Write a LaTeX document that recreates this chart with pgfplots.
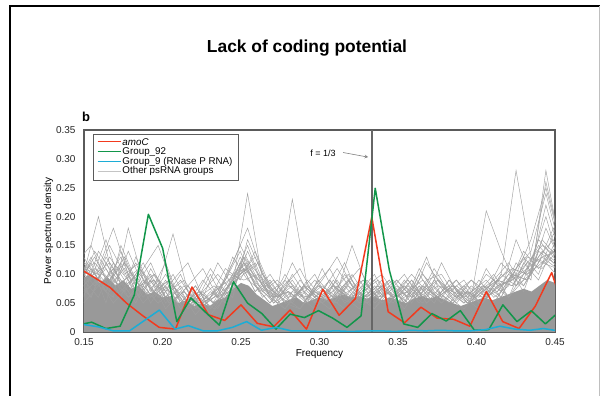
\documentclass[border=0pt]{standalone}
\usepackage{pgfplots}
\pgfplotsset{compat=1.18}
\usepackage{pgfplotstable}
\usepackage{fontspec}
\setmainfont{Liberation Sans}
\definecolor{cred}{HTML}{F23A1E}
\definecolor{cgreen}{HTML}{12964A}
\definecolor{ccyan}{HTML}{1CADD6}
\definecolor{cgray}{HTML}{A0A0A0}
\definecolor{lgray}{HTML}{C4C4C4}
\definecolor{coregray}{HTML}{999999}
\definecolor{axgray}{HTML}{5A5A5A}

\pgfplotstableread{
f a1 a2 a3 a4 a5 a6 a7 a8
0.1450 0.12 0.09 0.06 0.14 0.08 0.05 0.10 0.07
0.1545 0.15 0.06 0.11 0.09 0.13 0.08 0.06 0.12
0.1640 0.09 0.12 0.07 0.16 0.07 0.11 0.13 0.05
0.1735 0.13 0.07 0.14 0.08 0.12 0.06 0.09 0.15
0.1830 0.07 0.10 0.08 0.12 0.06 0.13 0.05 0.09
0.1925 0.10 0.05 0.12 0.06 0.09 0.07 0.11 0.06
0.2020 0.05 0.09 0.06 0.10 0.04 0.12 0.06 0.08
0.2115 0.08 0.04 0.09 0.05 0.07 0.05 0.10 0.04
0.2210 0.04 0.07 0.05 0.08 0.03 0.08 0.04 0.06
0.2305 0.06 0.03 0.10 0.04 0.06 0.04 0.07 0.11
0.2400 0.09 0.06 0.05 0.09 0.11 0.07 0.05 0.07
0.2495 0.14 0.10 0.12 0.15 0.09 0.13 0.10 0.12
0.2590 0.08 0.13 0.07 0.10 0.14 0.08 0.12 0.07
0.2685 0.05 0.07 0.10 0.06 0.08 0.05 0.06 0.09
0.2780 0.08 0.04 0.06 0.09 0.05 0.10 0.04 0.05
0.2875 0.11 0.07 0.04 0.06 0.09 0.06 0.08 0.04
0.2970 0.06 0.10 0.08 0.04 0.06 0.09 0.05 0.07
0.3065 0.09 0.05 0.11 0.07 0.04 0.06 0.09 0.05
0.3160 0.05 0.08 0.06 0.12 0.08 0.04 0.06 0.10
0.3255 0.07 0.05 0.09 0.06 0.11 0.07 0.04 0.06
0.3350 0.04 0.08 0.05 0.09 0.06 0.10 0.07 0.04
0.3445 0.08 0.05 0.07 0.05 0.09 0.05 0.09 0.07
0.3540 0.05 0.09 0.04 0.08 0.05 0.08 0.05 0.10
0.3635 0.10 0.06 0.08 0.05 0.11 0.06 0.08 0.06
0.3730 0.06 0.11 0.05 0.09 0.07 0.10 0.05 0.08
0.3825 0.08 0.07 0.09 0.06 0.05 0.07 0.09 0.05
0.3920 0.05 0.09 0.06 0.04 0.08 0.05 0.06 0.07
0.4015 0.07 0.05 0.08 0.07 0.05 0.09 0.04 0.06
0.4110 0.09 0.08 0.05 0.10 0.07 0.06 0.08 0.09
0.4205 0.06 0.11 0.09 0.06 0.10 0.08 0.06 0.12
0.4300 0.12 0.07 0.13 0.09 0.08 0.14 0.10 0.08
0.4395 0.09 0.14 0.10 0.16 0.12 0.11 0.15 0.13
0.4490 0.15 0.12 0.17 0.13 0.18 0.14 0.12 0.16
0.4585 0.10 0.09 0.12 0.10 0.11 0.10 0.09 0.11
}\tabA

\pgfplotstableread{
f b1 b2 b3 b4 b5 b6 b7 b8
0.1497 0.10 0.08 0.12 0.06 0.09 0.11 0.07 0.05
0.1592 0.20 0.11 0.08 0.14 0.06 0.10 0.09 0.08
0.1687 0.09 0.18 0.06 0.10 0.12 0.07 0.05 0.11
0.1782 0.06 0.10 0.18 0.07 0.09 0.14 0.08 0.06
0.1877 0.08 0.06 0.09 0.11 0.05 0.08 0.12 0.09
0.1972 0.05 0.09 0.06 0.15 0.08 0.05 0.07 0.06
0.2067 0.07 0.05 0.10 0.08 0.17 0.09 0.05 0.08
0.2162 0.04 0.08 0.05 0.05 0.07 0.12 0.08 0.05
0.2257 0.06 0.05 0.07 0.09 0.04 0.06 0.11 0.07
0.2352 0.12 0.07 0.04 0.06 0.08 0.05 0.06 0.10
0.2447 0.08 0.12 0.09 0.10 0.06 0.09 0.13 0.07
0.2542 0.24 0.18 0.15 0.12 0.16 0.11 0.09 0.14
0.2637 0.09 0.10 0.08 0.07 0.10 0.06 0.07 0.08
0.2732 0.06 0.07 0.05 0.09 0.06 0.08 0.05 0.06
0.2827 0.08 0.23 0.07 0.06 0.12 0.05 0.10 0.09
0.2922 0.05 0.08 0.06 0.08 0.07 0.09 0.06 0.05
0.3017 0.11 0.06 0.09 0.05 0.05 0.06 0.08 0.07
0.3112 0.06 0.09 0.13 0.07 0.08 0.05 0.06 0.11
0.3207 0.09 0.05 0.08 0.15 0.06 0.10 0.05 0.07
0.3302 0.05 0.07 0.06 0.08 0.09 0.06 0.08 0.05
0.3397 0.08 0.06 0.09 0.05 0.06 0.08 0.10 0.07
0.3492 0.06 0.09 0.05 0.07 0.08 0.05 0.06 0.09
0.3587 0.09 0.06 0.08 0.10 0.05 0.07 0.09 0.06
0.3682 0.05 0.12 0.06 0.07 0.09 0.13 0.05 0.08
0.3777 0.07 0.08 0.12 0.05 0.10 0.06 0.08 0.05
0.3872 0.09 0.05 0.07 0.08 0.06 0.09 0.06 0.07
0.3967 0.06 0.08 0.05 0.06 0.09 0.05 0.07 0.09
0.4062 0.21 0.06 0.08 0.10 0.07 0.11 0.09 0.06
0.4157 0.14 0.10 0.06 0.08 0.12 0.07 0.06 0.10
0.4252 0.08 0.28 0.12 0.10 0.09 0.16 0.11 0.08
0.4347 0.10 0.13 0.09 0.16 0.11 0.10 0.14 0.12
0.4442 0.18 0.12 0.28 0.25 0.22 0.26 0.24 0.20
0.4537 0.12 0.09 0.14 0.15 0.13 0.15 0.14 0.11
}\tabB

\pgfplotstableread{
f c1 c2 c3 c4 c5 c6 c7 c8
0.1473 0.11 0.13 0.08 0.10 0.12 0.09 0.14 0.07
0.1568 0.08 0.10 0.14 0.12 0.09 0.13 0.10 0.11
0.1663 0.13 0.07 0.10 0.09 0.15 0.08 0.12 0.09
0.1758 0.09 0.12 0.07 0.13 0.10 0.11 0.08 0.12
0.1853 0.11 0.08 0.11 0.07 0.12 0.06 0.10 0.08
0.1948 0.07 0.10 0.08 0.09 0.06 0.10 0.07 0.09
0.2043 0.09 0.06 0.07 0.05 0.08 0.07 0.09 0.05
0.2138 0.05 0.08 0.04 0.07 0.05 0.09 0.05 0.07
0.2233 0.07 0.05 0.06 0.04 0.07 0.05 0.06 0.04
0.2328 0.05 0.07 0.08 0.06 0.05 0.06 0.04 0.06
0.2423 0.08 0.09 0.06 0.08 0.07 0.10 0.08 0.07
0.2518 0.12 0.11 0.13 0.10 0.12 0.09 0.13 0.11
0.2613 0.09 0.08 0.10 0.12 0.07 0.10 0.08 0.09
0.2708 0.06 0.05 0.07 0.06 0.09 0.05 0.06 0.07
0.2803 0.07 0.08 0.05 0.07 0.06 0.07 0.09 0.05
0.2898 0.05 0.06 0.08 0.05 0.07 0.05 0.06 0.08
0.2993 0.08 0.05 0.06 0.09 0.05 0.08 0.07 0.06
0.3088 0.06 0.09 0.07 0.06 0.08 0.06 0.05 0.08
0.3183 0.09 0.06 0.10 0.07 0.06 0.09 0.08 0.06
0.3278 0.06 0.08 0.06 0.09 0.07 0.05 0.06 0.09
0.3373 0.08 0.06 0.07 0.06 0.09 0.07 0.08 0.06
0.3468 0.06 0.08 0.05 0.08 0.06 0.09 0.06 0.07
0.3563 0.07 0.05 0.08 0.06 0.07 0.06 0.09 0.05
0.3658 0.09 0.07 0.06 0.10 0.05 0.08 0.06 0.08
0.3753 0.06 0.09 0.08 0.07 0.09 0.06 0.07 0.06
0.3848 0.08 0.06 0.07 0.05 0.07 0.08 0.05 0.08
0.3943 0.05 0.07 0.05 0.07 0.06 0.05 0.08 0.06
0.4038 0.07 0.05 0.08 0.06 0.08 0.07 0.06 0.05
0.4133 0.09 0.08 0.06 0.09 0.07 0.09 0.07 0.08
0.4228 0.11 0.09 0.10 0.08 0.11 0.08 0.10 0.09
0.4323 0.10 0.12 0.09 0.12 0.10 0.13 0.09 0.11
0.4418 0.14 0.11 0.13 0.15 0.12 0.12 0.16 0.13
0.4513 0.12 0.14 0.11 0.13 0.15 0.11 0.13 0.14
}\tabC

\begin{document}
\begin{tikzpicture}[x=1pt,y=1pt]
\begin{axis}[
  name=ax, scale only axis,
  width=471pt, height=202pt,
  xmin=0.15, xmax=0.45, ymin=0, ymax=0.35,
  xtick={0.15,0.20,0.25,0.30,0.35,0.40,0.45},
  xticklabels={0.15,0.20,0.25,0.30,0.35,0.40,0.45},
  ytick={0,0.05,0.10,0.15,0.20,0.25,0.30,0.35},
  yticklabels={0,0.05,0.10,0.15,0.20,0.25,0.30,0.35},
  /pgf/number format/assume math mode=true,
  major tick length=0pt,
  tick label style={font=\fontsize{10}{12}\selectfont, text=black!85},
  xticklabel style={yshift=-3pt},
  yticklabel style={xshift=-5pt},
  axis line style={draw=axgray, line width=1.2pt},
  xlabel={Frequency},
  ylabel={Power spectrum density},
  label style={font=\fontsize{10}{12}\selectfont},
  xlabel style={yshift=3pt},
  ylabel style={yshift=-4pt},
  clip=true,
]
% dense core of other groups
\addplot[fill=coregray, draw=none, forget plot] coordinates {
(0.15,0.095) (0.155,0.10) (0.16,0.085) (0.165,0.095) (0.17,0.08) (0.175,0.09)
(0.18,0.075) (0.185,0.08) (0.19,0.065) (0.195,0.07) (0.2,0.06) (0.205,0.062)
(0.21,0.05) (0.215,0.055) (0.22,0.045) (0.225,0.05) (0.23,0.045) (0.235,0.055)
(0.24,0.06) (0.245,0.075) (0.25,0.085) (0.255,0.08) (0.26,0.065) (0.265,0.055)
(0.27,0.045) (0.275,0.05) (0.28,0.055) (0.285,0.06) (0.29,0.05) (0.295,0.055)
(0.3,0.06) (0.305,0.055) (0.31,0.06) (0.315,0.065) (0.32,0.06) (0.325,0.062)
(0.33,0.058) (0.335,0.062) (0.34,0.055) (0.345,0.06) (0.35,0.055) (0.355,0.05)
(0.36,0.058) (0.365,0.062) (0.37,0.058) (0.375,0.062) (0.38,0.055) (0.385,0.05)
(0.39,0.045) (0.395,0.05) (0.4,0.055) (0.405,0.06) (0.41,0.055) (0.415,0.06)
(0.42,0.065) (0.425,0.07) (0.43,0.075) (0.435,0.07) (0.44,0.08) (0.445,0.09) (0.45,0.085)
} \closedcycle;
\pgfplotsinvokeforeach{c1,c2,c3,c4,c5,c6,c7,c8}{
  \addplot[cgray, line width=0.45pt, forget plot] table[x=f,y=#1]{\tabC};
}
\pgfplotsinvokeforeach{a1,a2,a3,a4,a5,a6,a7,a8}{
  \addplot[cgray, line width=0.45pt, forget plot] table[x=f,y=#1]{\tabA};
}
\pgfplotsinvokeforeach{b1,b2,b3,b4,b5,b6,b7,b8}{
  \addplot[cgray, line width=0.45pt, forget plot] table[x=f,y=#1]{\tabB};
}
% f = 1/3 line
\addplot[color=black!60, line width=1.4pt, forget plot] coordinates {(0.33333,0) (0.33333,0.35)};
% amoC
\addplot[color=cred, line width=1.5pt, line join=round, forget plot] coordinates {
(0.1458,0.112) (0.15625,0.095) (0.1667,0.077) (0.1771,0.050) (0.1875,0.028)
(0.1979,0.008) (0.2083,0.005) (0.2188,0.078) (0.2292,0.030) (0.2396,0.020)
(0.2500,0.047) (0.2604,0.015) (0.2708,0.009) (0.28125,0.038) (0.2917,0.005)
(0.3021,0.074) (0.3125,0.029) (0.3229,0.058) (0.3333,0.199) (0.34375,0.035)
(0.3542,0.016) (0.3646,0.043) (0.3750,0.024) (0.3854,0.022) (0.3958,0.010)
(0.40625,0.070) (0.4167,0.018) (0.4271,0.006) (0.4375,0.045) (0.4479,0.103)
(0.4583,0.015)
};
% Group_92
\addplot[color=cgreen, line width=1.5pt, line join=round, forget plot] coordinates {
(0.1459,0.012) (0.1549,0.017) (0.1639,0.006) (0.1730,0.010) (0.1820,0.064)
(0.1910,0.204) (0.2001,0.145) (0.2091,0.018) (0.2181,0.059) (0.2271,0.035)
(0.2362,0.012) (0.2452,0.087) (0.2542,0.050) (0.2633,0.032) (0.2723,0.005)
(0.2813,0.031) (0.2904,0.025) (0.2994,0.037) (0.3084,0.024) (0.3175,0.008)
(0.3265,0.028) (0.3355,0.249) (0.3445,0.107) (0.3536,0.014) (0.3626,0.008)
(0.3716,0.032) (0.3807,0.019) (0.3897,0.037) (0.3987,0.003) (0.4078,0.004)
(0.4168,0.047) (0.4258,0.018) (0.4349,0.037) (0.4439,0.014) (0.4529,0.036)
};
% Group_9
\addplot[color=ccyan, line width=1.5pt, line join=round, forget plot] coordinates {
(0.1450,0.015) (0.1590,0.009) (0.1687,0.002) (0.1790,0.002) (0.1885,0.020)
(0.1980,0.038) (0.2080,0.005) (0.2164,0.011) (0.2260,0.002) (0.2350,0.002)
(0.2445,0.008) (0.2536,0.018) (0.2630,0.003) (0.2725,0.008) (0.2820,0.002)
(0.2915,0.002) (0.3010,0.001) (0.3105,0.002) (0.3200,0.001) (0.3295,0.002)
(0.3390,0.002) (0.3485,0.001) (0.3580,0.003) (0.3675,0.002) (0.3770,0.003)
(0.3865,0.002) (0.3960,0.002) (0.4055,0.004) (0.4150,0.010) (0.4245,0.005)
(0.4340,0.003) (0.4426,0.006) (0.4520,0.002)
};
% legend (drawn as a key box)
\draw[axgray, line width=0.6pt, fill=white] (rel axis cs:0.0191,0.9802) rectangle (rel axis cs:0.3270,0.7525);
\draw[cred, line width=1.3pt] (rel axis cs:0.0291,0.9421) -- (rel axis cs:0.0786,0.9421);
\draw[cgreen, line width=1.3pt] (rel axis cs:0.0291,0.8926) -- (rel axis cs:0.0786,0.8926);
\draw[ccyan, line width=1.3pt] (rel axis cs:0.0291,0.8431) -- (rel axis cs:0.0786,0.8431);
\draw[lgray, line width=0.9pt] (rel axis cs:0.0291,0.7970) -- (rel axis cs:0.0786,0.7970);
\begin{scope}[every node/.style={anchor=west, inner sep=0pt, font=\fontsize{9.8}{11}\selectfont}]
\node at (rel axis cs:0.0813,0.9421) {\textit{amoC}};
\node at (rel axis cs:0.0813,0.8926) {Group\_92};
\node at (rel axis cs:0.0813,0.8431) {Group\_9 (RNase P RNA)};
\node at (rel axis cs:0.0813,0.7970) {Other psRNA groups};
\end{scope}
% annotation
\node[font=\fontsize{9}{11}\selectfont] at (axis cs:0.3022,0.310) {f = 1/3};
\draw[->, gray, line width=0.6pt, >=stealth] (axis cs:0.3150,0.311) -- (axis cs:0.3310,0.303);
\coordinate (O) at (rel axis cs:0,0);
\end{axis}
\begin{scope}[shift={(O)}, shift={(-84,-64)}]
\useasboundingbox (0,0) rectangle (600,396);
\draw[black, line width=2pt] (10,0) -- (10,390) -- (600,390);
\draw[gray!50, line width=1pt] (599,390) -- (599,0);
\node[font=\bfseries\fontsize{17.4}{20}\selectfont] at (307,348) {Lack of coding potential};
\node[font=\bfseries\fontsize{13}{15}\selectfont] at (86,279) {b};
\end{scope}
\end{tikzpicture}
\end{document}
